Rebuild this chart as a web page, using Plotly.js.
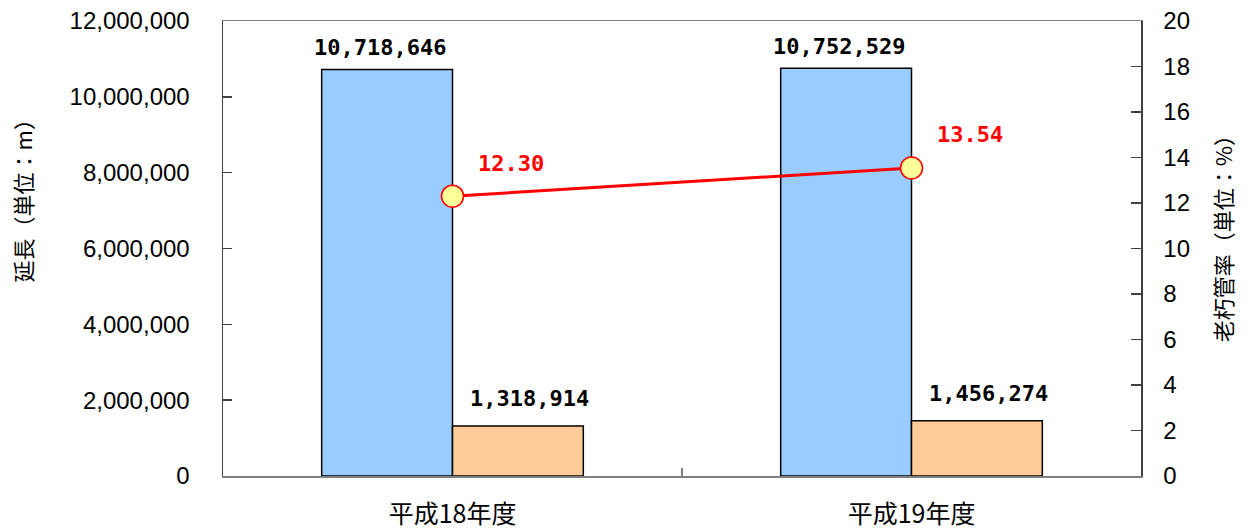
<!DOCTYPE html>
<html>
<head>
<meta charset="utf-8">
<script src="https://cdn.plot.ly/plotly-3.0.1.min.js"></script>
<style>html,body{margin:0;padding:0;background:#fff;}#chart{width:1249px;height:528px;}</style>
</head>
<body>
<div id="chart"></div>
<script>
const categories = ['平成18年度', '平成19年度'];
const totalLength = [10718646, 10752529];
const agedLength = [1318914, 1456274];
const agedRate = [12.30, 13.54];
const leftTitle = '延長（単位：m）';
const rightTitle = '老朽管率（単位：%）';

const BARGAP = 0.43;
const barW = (1 - BARGAP) / 2;
const cjk = '"Noto Sans CJK JP", sans-serif';
const num = '"Liberation Sans", Arial, sans-serif';
const mono = '"DejaVu Sans Mono", monospace';

const traces = [
  {type: 'bar', x: categories, y: totalLength, yaxis: 'y',
   marker: {color: '#99CCFF', line: {color: '#000', width: 1.5}}, hoverinfo: 'none'},
  {type: 'bar', x: categories, y: agedLength, yaxis: 'y',
   marker: {color: '#FFCC99', line: {color: '#000', width: 1.5}}, hoverinfo: 'none'},
  {type: 'scatter', mode: 'lines+markers', x: categories, y: agedRate, yaxis: 'y2',
   line: {color: '#FF0000', width: 3},
   marker: {size: 22, color: '#FFFF99', line: {color: '#FF0000', width: 1.5}}, hoverinfo: 'none', cliponaxis: false}
];

const annotations = [];
categories.forEach((c, i) => {
  annotations.push({xref: 'x', yref: 'y', x: i - barW / 2, y: totalLength[i],
    text: '<b>' + totalLength[i].toLocaleString('en-US') + '</b>', showarrow: false,
    xshift: -7, yshift: 22, yanchor: 'middle',
    font: {family: mono, size: 22, color: '#000'}});
  annotations.push({xref: 'x', yref: 'y', x: i + barW / 2, y: agedLength[i],
    text: '<b>' + agedLength[i].toLocaleString('en-US') + '</b>', showarrow: false,
    xshift: 12, yshift: 27, yanchor: 'middle',
    font: {family: mono, size: 22, color: '#000'}});
  annotations.push({xref: 'x', yref: 'y2', x: i, y: agedRate[i],
    text: '<b>' + agedRate[i].toFixed(2) + '</b>', showarrow: false,
    xshift: 58, yshift: 33, yanchor: 'middle',
    font: {family: mono, size: 22, color: '#FF0000'}});
});
// axis titles (placed as in the reference, not centred on the plot)
annotations.push({xref: 'paper', yref: 'paper', x: -0.2195, y: 0.6176, textangle: -90,
  text: leftTitle, showarrow: false, xanchor: 'center', yanchor: 'middle',
  font: {family: cjk, size: 22, color: '#000'}});
annotations.push({xref: 'paper', yref: 'paper', x: 1.0885, y: 0.534, textangle: -90,
  text: rightTitle, showarrow: false, xanchor: 'center', yanchor: 'middle',
  font: {family: cjk, size: 22, color: '#000'}});

const layout = {
  width: 1249, height: 528,
  margin: {l: 223, r: 108, t: 21, b: 52},
  paper_bgcolor: '#fff', plot_bgcolor: '#fff',
  showlegend: false,
  barmode: 'group', bargap: BARGAP, bargroupgap: 0,
  xaxis: {
    type: 'category', tickson: 'boundaries', ticks: 'inside', ticklen: 8, tickcolor: '#808080', tickwidth: 1.5,
    showline: true, linecolor: '#808080', linewidth: 1.5, mirror: true,
    showgrid: false, zeroline: false,
    tickfont: {family: cjk, size: 25, color: '#000'}, ticklabelstandoff: 15
  },
  yaxis: {
    range: [0, 12000000], dtick: 2000000, tickformat: ',d',
    ticks: 'inside', ticklen: 9, tickcolor: '#404040', tickwidth: 1.5,
    showline: true, linecolor: '#404040', linewidth: 1.5,
    showgrid: false, zeroline: false,
    tickfont: {family: num, size: 24, color: '#000'}, ticklabelstandoff: 27
  },
  yaxis2: {
    overlaying: 'y', side: 'right', range: [0, 20], dtick: 2,
    ticks: 'inside', ticklen: 10, tickcolor: '#404040', tickwidth: 1.5,
    showline: true, linecolor: '#404040', linewidth: 1.5,
    showgrid: false, zeroline: false,
    tickfont: {family: num, size: 24, color: '#000'}, ticklabelstandoff: 16
  },
  annotations: annotations
};

Plotly.newPlot('chart', traces, layout, {staticPlot: true, displayModeBar: false});
</script>
</body>
</html>
